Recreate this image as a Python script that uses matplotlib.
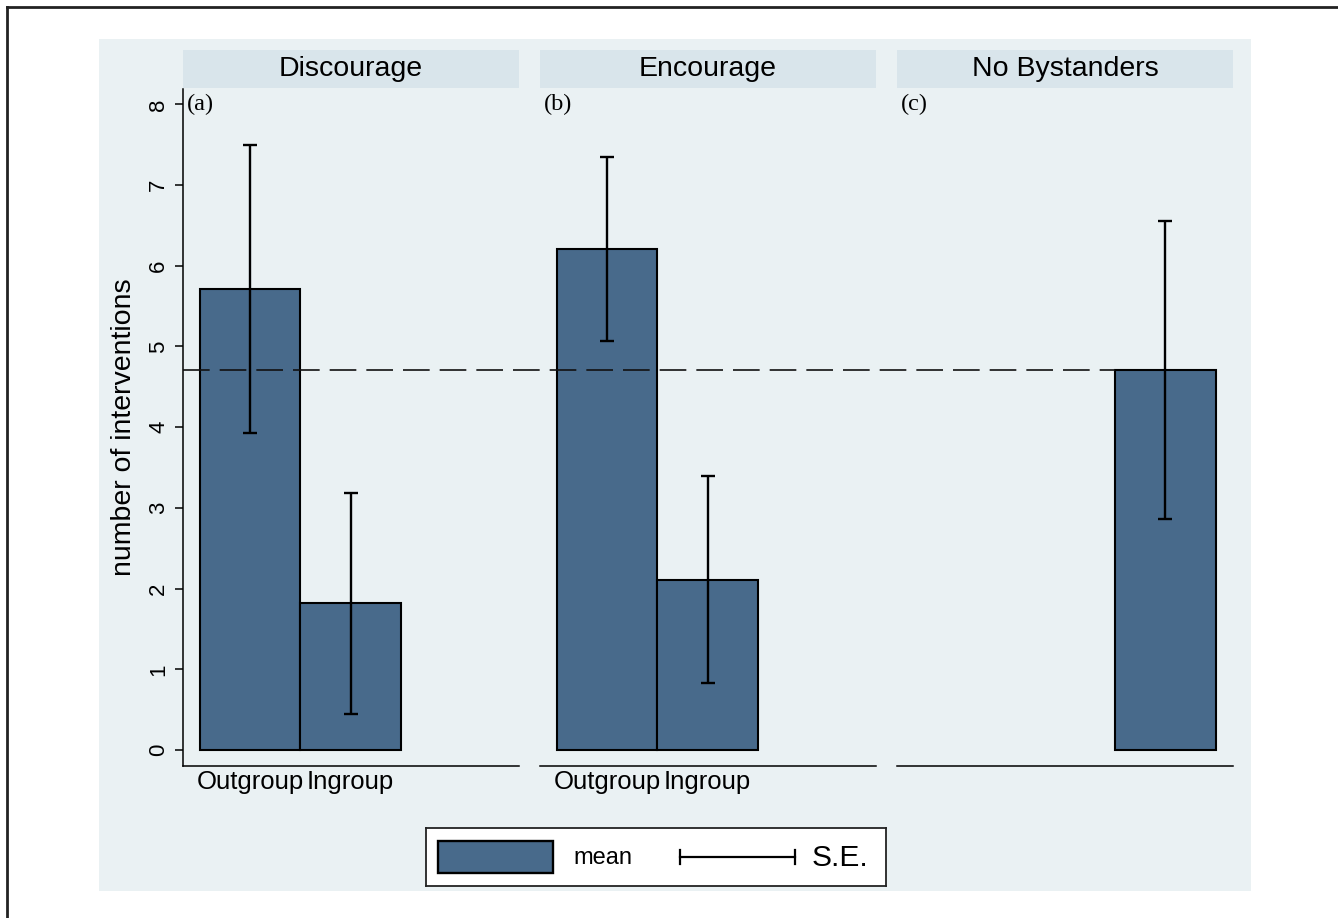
import matplotlib
matplotlib.use("Agg")
import matplotlib.pyplot as plt
from matplotlib.patches import Rectangle
from matplotlib.lines import Line2D
import matplotlib.transforms as mtransforms

# ---- data ----
conditions = ["Discourage", "Encourage", "No Bystanders"]
panel_labels = ["(a)", "(b)", "(c)"]
group_labels = ["Outgroup", "Ingroup"]
discourage_mean = [5.71, 1.82]
discourage_se = [1.78, 1.37]
encourage_mean = [6.21, 2.11]
encourage_se = [1.14, 1.28]
nobystander_mean = [4.71]
nobystander_se = [1.85]
reference_value = 4.71
y_ticks = [0, 1, 2, 3, 4, 5, 6, 7, 8]
y_label = "number of interventions"
legend_labels = ["mean", "S.E."]

# ---- style ----
BAR = "#486a8b"
PLOT_BG = "#eaf1f3"
STRIP_BG = "#d9e5eb"
SANS = ["Liberation Sans", "DejaVu Sans"]
SERIF = ["Liberation Serif", "DejaVu Serif"]
plt.rcParams["font.family"] = SANS

W, H = 1338, 918
fig = plt.figure(figsize=(W / 100, H / 100), dpi=100)
fig.patch.set_facecolor("white")

def fx(px):
    return px / W

def fy(py):
    return 1 - py / H

# outer light background region
fig.add_artist(Rectangle((fx(99), fy(891)), fx(1251) - fx(99), fy(39) - fy(891),
                         transform=fig.transFigure, facecolor=PLOT_BG,
                         edgecolor="none", zorder=-5))
# outer border (top and left)
fig.add_artist(Line2D([fx(7), 1.0], [fy(7), fy(7)], transform=fig.transFigure,
                      color="#222222", lw=2))
fig.add_artist(Line2D([fx(7), fx(7)], [fy(7), 0.0], transform=fig.transFigure,
                      color="#222222", lw=2))

panel_left_px = [183, 540, 897]
panel_w_px = 336
ax_top_px, ax_bot_px = 89, 766
xlim = (-0.669, 2.674)
ylim = (-0.198, 8.19)

series = [
    ([0, 1], discourage_mean, discourage_se, group_labels),
    ([0, 1], encourage_mean, encourage_se, group_labels),
    ([2], nobystander_mean, nobystander_se, []),
]

axes = []
for i, (pos, m, se, labs) in enumerate(series):
    L = panel_left_px[i]
    ax = fig.add_axes([fx(L), fy(ax_bot_px), fx(panel_w_px), fy(ax_top_px) - fy(ax_bot_px)])
    ax.patch.set_alpha(0)
    ax.bar(pos, m, width=1.0, color=BAR, edgecolor="black", linewidth=1.5, zorder=2)
    ax.errorbar(pos, m, yerr=se, fmt="none", ecolor="black", elinewidth=1.7,
                capsize=5, capthick=1.7, zorder=3)
    ax.set_xlim(*xlim)
    ax.set_ylim(*ylim)
    for s in ["top", "right"]:
        ax.spines[s].set_visible(False)
    ax.spines["bottom"].set_linewidth(1.1)
    ax.spines["left"].set_linewidth(1.1)
    ax.set_xticks(pos if labs else [])
    if labs:
        ax.set_xticklabels(labs, fontsize=18.5)
    ax.tick_params(axis="x", length=0, pad=3)
    if i == 0:
        ax.set_yticks(y_ticks)
        ax.set_yticklabels([str(t) for t in y_ticks], rotation=90, va="center",
                           fontsize=16)
        ax.tick_params(axis="y", length=6, width=1.1, pad=4)
        ax.set_ylabel(y_label, fontsize=20.5, labelpad=8)
    else:
        ax.spines["left"].set_visible(False)
        ax.set_yticks([])
    ax.text(-0.63, 8.0, panel_labels[i], family=SERIF, fontsize=17.5,
            va="center", ha="left")
    # strip
    fig.add_artist(Rectangle((fx(L), fy(88)), fx(panel_w_px), fy(50) - fy(88),
                             transform=fig.transFigure, facecolor=STRIP_BG,
                             edgecolor="none", zorder=-4))
    fig.text(fx(L + panel_w_px / 2), fy(69), conditions[i], ha="center",
             va="center", fontsize=20.5)
    axes.append(ax)

# dashed reference line across panels, ending at the No Bystanders bar
ax1, ax3 = axes[0], axes[2]
x_start = ax1.get_position().x0
p3 = ax3.get_position()
x_end = p3.x0 + (2 - 0.5 - xlim[0]) / (xlim[1] - xlim[0]) * p3.width
trans = mtransforms.blended_transform_factory(fig.transFigure, ax1.transData)
fig.add_artist(Line2D([x_start, x_end], [reference_value, reference_value],
                      transform=trans, color="#111111", lw=1.2,
                      dashes=(16, 6), zorder=5))

# legend
lx0, ly0, lx1, ly1 = 426, 828, 886, 886
lax = fig.add_axes([fx(lx0), fy(ly1), fx(lx1 - lx0), fy(ly0) - fy(ly1)])
lax.set_xlim(0, lx1 - lx0)
lax.set_ylim(0, ly1 - ly0)
lax.set_xticks([])
lax.set_yticks([])
lax.set_facecolor("white")
for s in lax.spines.values():
    s.set_linewidth(1.3)
    s.set_color("#222222")
lax.add_patch(Rectangle((12, 13), 115, 32, facecolor=BAR, edgecolor="black", lw=1.7))
lax.text(147, 28, legend_labels[0], fontsize=17, va="center", ha="left")
lax.plot([254, 369], [29, 29], color="black", lw=1.6)
lax.plot([254, 254], [22, 36], color="black", lw=1.6)
lax.plot([369, 369], [22, 36], color="black", lw=1.6)
lax.text(386, 28, legend_labels[1], fontsize=21.5, va="center", ha="left")

fig.savefig("out.png", dpi=100, facecolor="white")
